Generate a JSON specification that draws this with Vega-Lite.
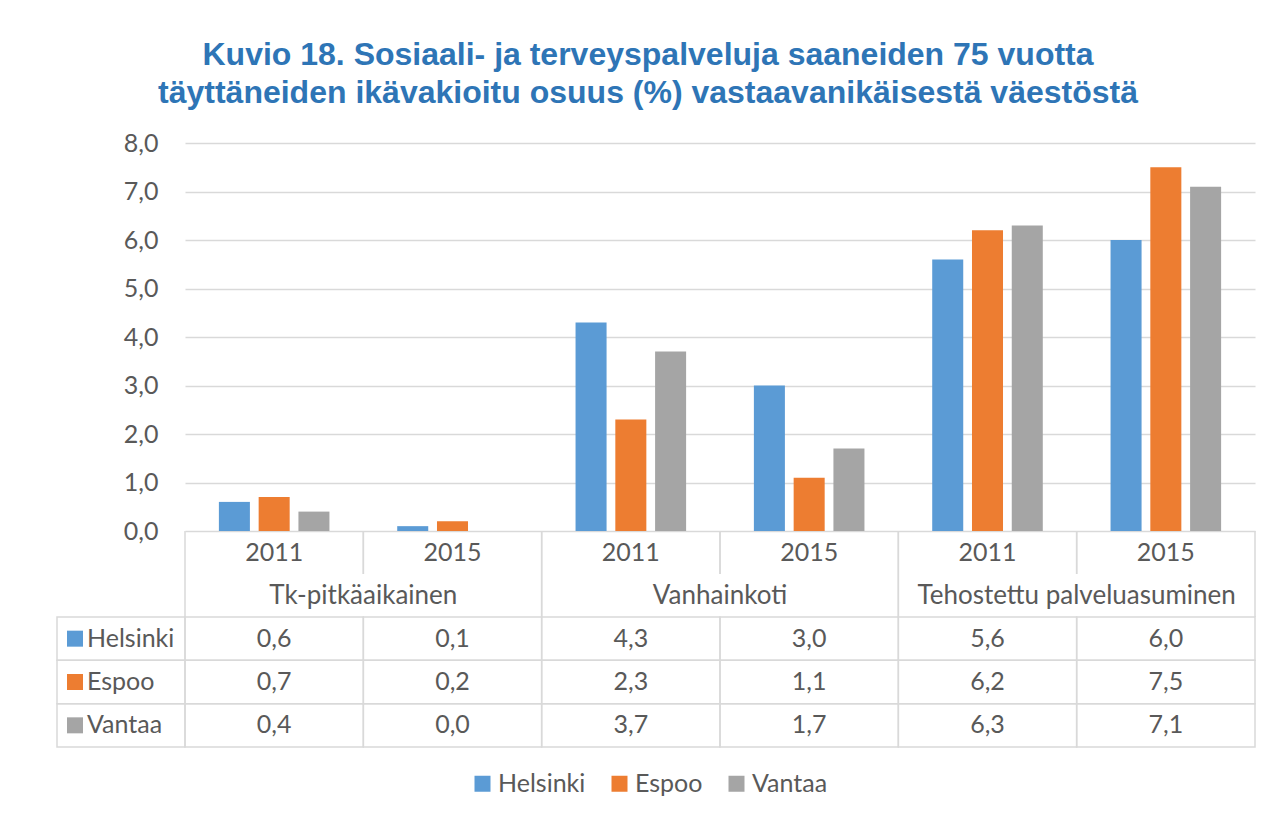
{
  "$schema": "https://vega.github.io/schema/vega-lite/v6.json",
  "padding": {"left": 56, "top": 39, "right": 18, "bottom": 10},
  "background": "white",
  "config": {
    "locale": {"number": {"decimal": ",", "thousands": " ", "grouping": [3], "currency": ["", " €"]}},
    "view": {"stroke": null},
    "font": "Lato",
    "text": {"font": "Lato", "fontSize": 25, "color": "#595959"}
  },
  "title": {
    "text": ["Kuvio 18. Sosiaali- ja terveyspalveluja saaneiden 75 vuotta", "täyttäneiden ikävakioitu osuus (%) vastaavanikäisestä väestöstä"],
    "font": "Liberation Sans",
    "fontSize": 32,
    "fontWeight": "bold",
    "color": "#2E75B6",
    "lineHeight": 38,
    "anchor": "start",
    "align": "center",
    "frame": "group",
    "dx": 591,
    "offset": 21
  },
  "datasets": {
    "d": [
      {"cat": "Tk-pitkäaikainen", "year": "2011", "col": "Tk-pitkäaikainen 2011", "city": "Helsinki", "value": 0.6},
      {"cat": "Tk-pitkäaikainen", "year": "2011", "col": "Tk-pitkäaikainen 2011", "city": "Espoo", "value": 0.7},
      {"cat": "Tk-pitkäaikainen", "year": "2011", "col": "Tk-pitkäaikainen 2011", "city": "Vantaa", "value": 0.4},
      {"cat": "Tk-pitkäaikainen", "year": "2015", "col": "Tk-pitkäaikainen 2015", "city": "Helsinki", "value": 0.1},
      {"cat": "Tk-pitkäaikainen", "year": "2015", "col": "Tk-pitkäaikainen 2015", "city": "Espoo", "value": 0.2},
      {"cat": "Tk-pitkäaikainen", "year": "2015", "col": "Tk-pitkäaikainen 2015", "city": "Vantaa", "value": 0.0},
      {"cat": "Vanhainkoti", "year": "2011", "col": "Vanhainkoti 2011", "city": "Helsinki", "value": 4.3},
      {"cat": "Vanhainkoti", "year": "2011", "col": "Vanhainkoti 2011", "city": "Espoo", "value": 2.3},
      {"cat": "Vanhainkoti", "year": "2011", "col": "Vanhainkoti 2011", "city": "Vantaa", "value": 3.7},
      {"cat": "Vanhainkoti", "year": "2015", "col": "Vanhainkoti 2015", "city": "Helsinki", "value": 3.0},
      {"cat": "Vanhainkoti", "year": "2015", "col": "Vanhainkoti 2015", "city": "Espoo", "value": 1.1},
      {"cat": "Vanhainkoti", "year": "2015", "col": "Vanhainkoti 2015", "city": "Vantaa", "value": 1.7},
      {"cat": "Tehostettu palveluasuminen", "year": "2011", "col": "Tehostettu palveluasuminen 2011", "city": "Helsinki", "value": 5.6},
      {"cat": "Tehostettu palveluasuminen", "year": "2011", "col": "Tehostettu palveluasuminen 2011", "city": "Espoo", "value": 6.2},
      {"cat": "Tehostettu palveluasuminen", "year": "2011", "col": "Tehostettu palveluasuminen 2011", "city": "Vantaa", "value": 6.3},
      {"cat": "Tehostettu palveluasuminen", "year": "2015", "col": "Tehostettu palveluasuminen 2015", "city": "Helsinki", "value": 6.0},
      {"cat": "Tehostettu palveluasuminen", "year": "2015", "col": "Tehostettu palveluasuminen 2015", "city": "Espoo", "value": 7.5},
      {"cat": "Tehostettu palveluasuminen", "year": "2015", "col": "Tehostettu palveluasuminen 2015", "city": "Vantaa", "value": 7.1}
    ]
  },
  "columns": 2,
  "spacing": 0,
  "bounds": "flush",
  "align": "each",
  "concat": [
    {
      "width": 128, "height": 388,
      "data": {"values": [{"k": 1}]},
      "mark": {"type": "text", "text": ""},
      "encoding": {}
    },
    {
      "width": 1070, "height": 388,
      "data": {"name": "d"},
      "mark": {"type": "bar"},
      "encoding": {
        "x": {"field": "col", "type": "nominal", "sort": null,
          "scale": {"domain": ["Tk-pitkäaikainen 2011", "Tk-pitkäaikainen 2015", "Vanhainkoti 2011", "Vanhainkoti 2015", "Tehostettu palveluasuminen 2011", "Tehostettu palveluasuminen 2015"], "paddingInner": 0.38, "paddingOuter": 0.19},
          "axis": null},
        "xOffset": {"field": "city", "type": "nominal",
          "scale": {"domain": ["Helsinki", "Espoo", "Vantaa"], "paddingInner": 0.22, "paddingOuter": 0}},
        "y": {"field": "value", "type": "quantitative",
          "scale": {"domain": [0, 8], "nice": false},
          "axis": {"title": null, "values": [0, 1, 2, 3, 4, 5, 6, 7, 8], "format": ".1f", "grid": true, "gridColor": "#d9d9d9", "gridWidth": 1.5, "domain": false, "ticks": false, "labelPadding": 27, "labelFont": "Lato", "labelFontSize": 25, "labelColor": "#595959"}},
        "color": {"field": "city", "type": "nominal",
          "scale": {"domain": ["Helsinki", "Espoo", "Vantaa"], "range": ["#5B9BD5", "#ED7D31", "#A5A5A5"]},
          "legend": {"orient": "none", "legendX": 413, "legendY": 628, "direction": "horizontal", "title": null, "symbolType": "square", "symbolSize": 256, "symbolStrokeWidth": 0, "labelFont": "Lato", "labelFontSize": 25, "labelColor": "#595959", "labelOffset": 3, "columnPadding": 21}}
      }
    },
    {
      "width": 128, "height": 43,
      "data": {"values": [{"k": 1}]},
      "mark": {"type": "text", "text": ""},
      "encoding": {}
    },
    {
      "width": 1070, "height": 43,
      "data": {"name": "d"},
      "transform": [{"filter": "datum.city == 'Helsinki'"}],
      "layer": [
        {
          "mark": {"type": "rule", "color": "#d9d9d9", "strokeWidth": 1.5},
          "encoding": {"x": {"field": "col", "type": "nominal", "bandPosition": 0, "scale": {"domain": ["Tk-pitkäaikainen 2011", "Tk-pitkäaikainen 2015", "Vanhainkoti 2011", "Vanhainkoti 2015", "Tehostettu palveluasuminen 2011", "Tehostettu palveluasuminen 2015"], "paddingInner": 0, "paddingOuter": 0}, "axis": null}}
        },
        {
          "mark": {"type": "rule", "color": "#d9d9d9", "strokeWidth": 1.5},
          "encoding": {"x": {"field": "col", "type": "nominal", "bandPosition": 1, "axis": null}}
        },
        {
          "mark": {"type": "text", "fontSize": 25, "color": "#595959"},
          "encoding": {"x": {"field": "col", "type": "nominal", "axis": null}, "text": {"field": "year"}}
        }
      ]
    },
    {
      "width": 128, "height": 43,
      "data": {"values": [{"k": 1}]},
      "mark": {"type": "text", "text": ""},
      "encoding": {}
    },
    {
      "width": 1070, "height": 43,
      "data": {"name": "d"},
      "transform": [{"filter": "datum.city == 'Helsinki'"}],
      "layer": [
        {
          "transform": [{"filter": "datum.year == '2011'"}],
          "mark": {"type": "rule", "color": "#d9d9d9", "strokeWidth": 1.5},
          "encoding": {"x": {"field": "col", "type": "nominal", "bandPosition": 0, "scale": {"domain": ["Tk-pitkäaikainen 2011", "Tk-pitkäaikainen 2015", "Vanhainkoti 2011", "Vanhainkoti 2015", "Tehostettu palveluasuminen 2011", "Tehostettu palveluasuminen 2015"], "paddingInner": 0, "paddingOuter": 0}, "axis": null}}
        },
        {
          "transform": [{"filter": "datum.year == '2015'"}],
          "mark": {"type": "rule", "color": "#d9d9d9", "strokeWidth": 1.5},
          "encoding": {"x": {"field": "col", "type": "nominal", "bandPosition": 1, "axis": null}}
        },
        {
          "transform": [{"filter": "datum.year == '2015'"}],
          "mark": {"type": "text", "fontSize": 26, "color": "#595959"},
          "encoding": {"x": {"field": "col", "type": "nominal", "bandPosition": 0, "axis": null}, "text": {"field": "cat"}}
        }
      ]
    },
    {
      "width": 128, "height": 130,
      "data": {"name": "d"},
      "transform": [{"filter": "datum.col == 'Tk-pitkäaikainen 2011'"}],
      "encoding": {
        "y": {"field": "city", "type": "nominal", "scale": {"domain": ["Helsinki", "Espoo", "Vantaa"], "paddingInner": 0, "paddingOuter": 0}, "axis": null}
      },
      "layer": [
        {"mark": {"type": "bar", "fill": "white", "fillOpacity": 0, "stroke": "#d9d9d9", "strokeWidth": 1.5}},
        {"mark": {"type": "square", "size": 256, "opacity": 1, "xOffset": -46},
         "encoding": {"fill": {"field": "city", "type": "nominal", "scale": {"domain": ["Helsinki", "Espoo", "Vantaa"], "range": ["#5B9BD5", "#ED7D31", "#A5A5A5"]}, "legend": null}}},
        {"mark": {"type": "text", "align": "left", "dx": -34, "fontSize": 25, "color": "#595959"},
         "encoding": {"text": {"field": "city"}}}
      ]
    },
    {
      "width": 1070, "height": 130,
      "data": {"name": "d"},
      "encoding": {
        "x": {"field": "col", "type": "nominal", "scale": {"domain": ["Tk-pitkäaikainen 2011", "Tk-pitkäaikainen 2015", "Vanhainkoti 2011", "Vanhainkoti 2015", "Tehostettu palveluasuminen 2011", "Tehostettu palveluasuminen 2015"], "paddingInner": 0, "paddingOuter": 0}, "axis": null},
        "y": {"field": "city", "type": "nominal", "scale": {"domain": ["Helsinki", "Espoo", "Vantaa"], "paddingInner": 0, "paddingOuter": 0}, "axis": null}
      },
      "layer": [
        {"mark": {"type": "rect", "fill": "white", "fillOpacity": 0, "stroke": "#d9d9d9", "strokeWidth": 1.5}},
        {"mark": {"type": "text", "fontSize": 25, "color": "#595959"},
         "encoding": {"text": {"field": "value", "type": "quantitative", "format": ".1f"}}}
      ]
    }
  ]
}
